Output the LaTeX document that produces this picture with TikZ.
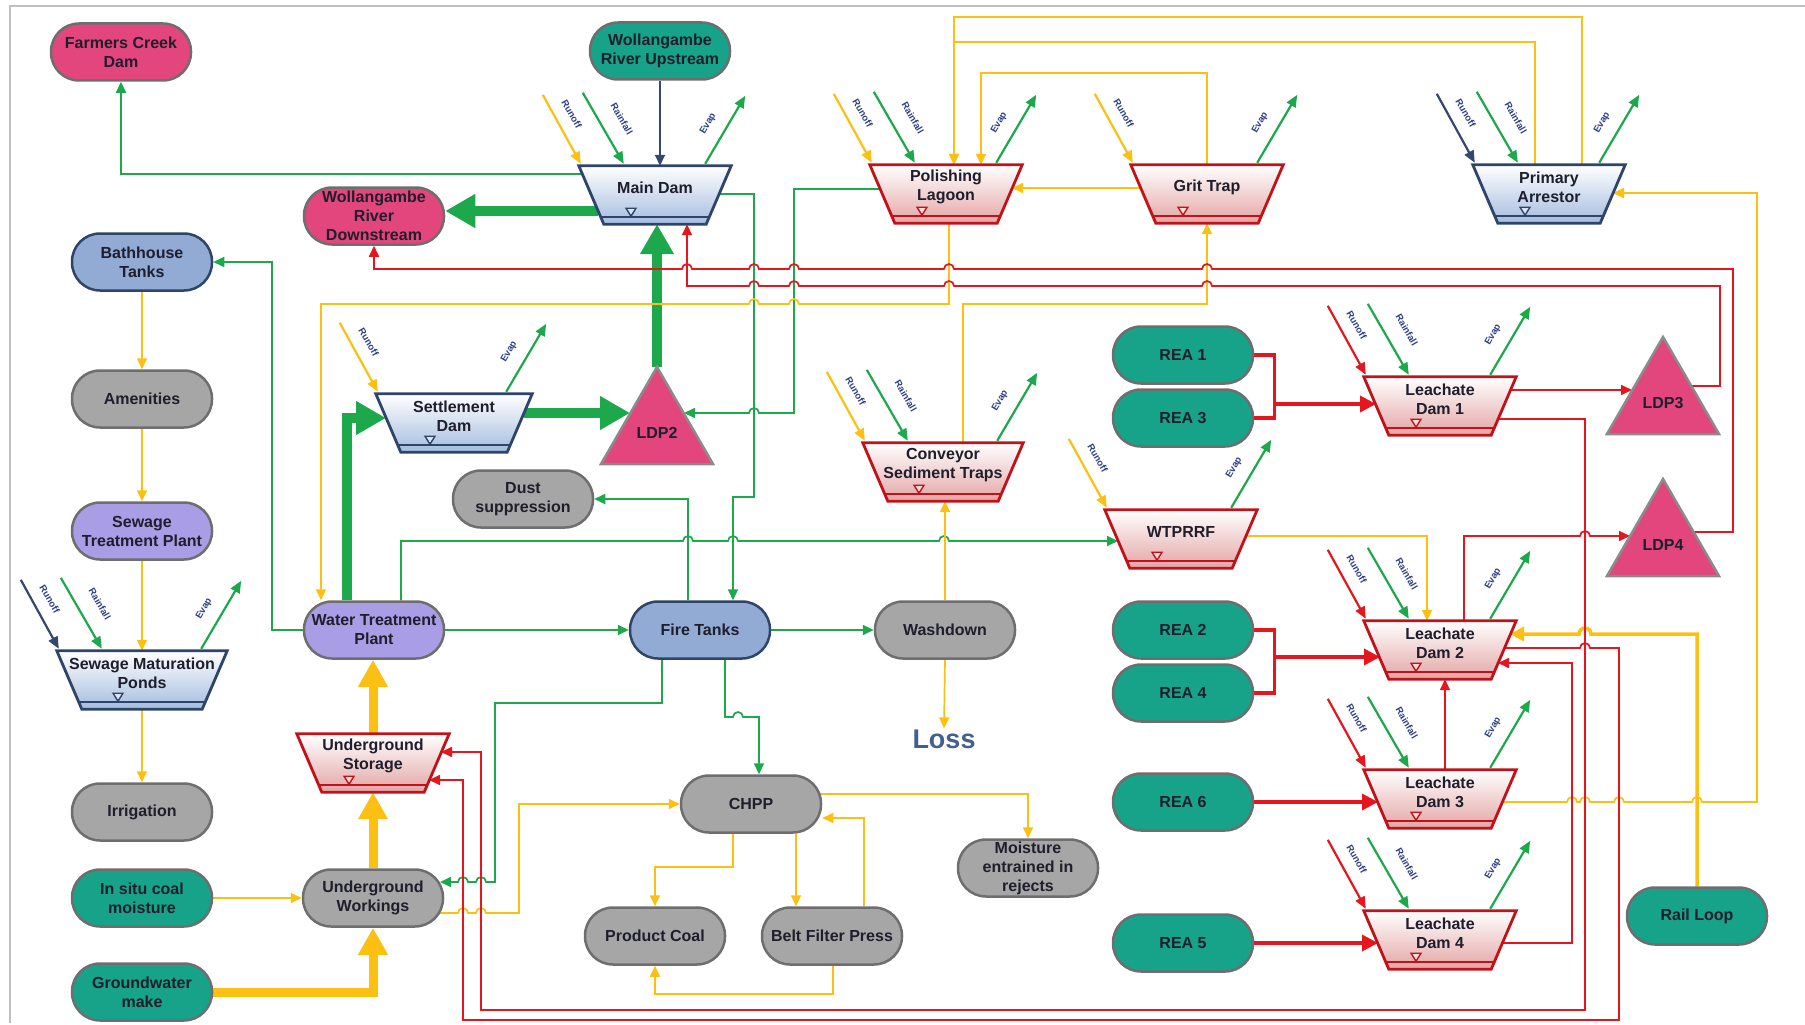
\documentclass[tikz,border=0pt]{standalone}
\usepackage{fontspec}
\setmainfont{Liberation Sans}
\usetikzlibrary{arrows.meta,calc}
\definecolor{cpink}{HTML}{E2467C}
\definecolor{cteal}{HTML}{16A389}
\definecolor{cgray}{HTML}{A6A6A6}
\definecolor{cblue}{HTML}{92ABD4}
\definecolor{cpurple}{HTML}{A99DE5}
\definecolor{cbord}{HTML}{6E6E6E}
\definecolor{cnavy}{HTML}{34476E}
\definecolor{cgreen}{HTML}{1DA84C}
\definecolor{cyel}{HTML}{FCC012}
\definecolor{cred}{HTML}{E5161E}
\definecolor{ctext}{HTML}{1E1E2C}
\definecolor{clab}{HTML}{2D3F85}
\definecolor{closs}{HTML}{41608F}
\definecolor{fillb}{HTML}{A4BCDF}
\definecolor{lineb}{HTML}{2E4468}
\definecolor{fillr}{HTML}{E4A5A5}
\definecolor{liner}{HTML}{C1121A}
\newcommand{\ndfont}{\fontsize{16}{19}\selectfont\bfseries}
\newcommand{\wxfont}{\fontsize{9.5}{11}\selectfont\bfseries}
\pgfdeclarelayer{bg}
\pgfsetlayers{bg,main}
\newcommand{\mkdam}[7]{%
 \node[minimum width=#4pt, minimum height=#5pt, inner sep=0pt] (#1) at (#2,#3) {};
 \path[top color=white, bottom color=fill#6, draw=line#6, line width=2.8pt, line join=miter]
  (#1.north west) -- (#1.north east) -- ([xshift=-25pt]#1.south east) -- ([xshift=25pt]#1.south west) -- cycle;
 \draw[line#6, line width=2pt] ([xshift=22pt,yshift=7pt]#1.south west) -- ([xshift=-22pt,yshift=7pt]#1.south east);
 \draw[line#6, line width=1.4pt, fill=white!60!fill#6, line join=miter] ([xshift=-29pt,yshift=16pt]#1.south) -- ([xshift=-19pt,yshift=16pt]#1.south) -- ([xshift=-24pt,yshift=8pt]#1.south) -- cycle;
 \node[ntext] at ([yshift=7pt]#1.center) {#7};
}
\newcommand{\mkldp}[4]{%
 \coordinate (#1top) at (#2,#3);
 \filldraw[fill=cpink, draw=cbord!80, line width=2.5pt, line join=miter] (#2,#3) -- ++(56,97) -- ++(-112,0) -- cycle;
 \node[ntext] (#1) at (#2,#3+66) {#4};
}
\newcommand{\runoffarr}[2]{%
 \draw[wxa, #2] ([shift={(-36,-71)}]#1.north west) -- ([shift={(2,-2)}]#1.north west);
 \node[wxl, rotate=-60] at ([shift={(-7,-52)}]#1.north west) {Runoff};
}
\newcommand{\rainarr}[1]{%
 \draw[wxa, cgreen] ([shift={(4,-73)}]#1.north west) -- ([shift={(45,-2)}]#1.north west);
 \node[wxl, rotate=-60] at ([shift={(43,-47)}]#1.north west) {Rainfall};
}
\newcommand{\evaparr}[1]{%
 \draw[wxa, cgreen] ([shift={(-26,-2)}]#1.north east) -- ([shift={(14,-70)}]#1.north east);
 \node[wxl, rotate=60] at ([shift={(-23,-42)}]#1.north east) {Evap};
}
\begin{document}
\begin{tikzpicture}[x=1pt,y=-1pt,
 ntext/.style={font=\ndfont, text=ctext, align=center, inner sep=0pt},
 pill/.style={draw=cbord, line width=2.5pt, rounded corners=28pt, minimum width=140pt, minimum height=57pt, inner sep=0pt, align=center, font=\ndfont, text=ctext},
 pinkp/.style={pill, fill=cpink},
 tealp/.style={pill, fill=cteal},
 grayp/.style={pill, fill=cgray},
 bluep/.style={pill, fill=cblue, draw=lineb},
 purpp/.style={pill, fill=cpurple},
 wxa/.style={line width=2.2pt, -{Triangle[length=12pt,width=10pt]}},
 wxl/.style={font=\wxfont, text=clab, inner sep=0pt},
 gln/.style={draw=cgreen, line width=1.7pt, -{Triangle[length=11pt,width=10pt]}},
 yln/.style={draw=cyel, line width=1.7pt, -{Triangle[length=11pt,width=10pt]}},
 rln/.style={draw=cred, line width=1.7pt, -{Triangle[length=11pt,width=10pt]}},
 nln/.style={draw=cnavy, line width=1.7pt, -{Triangle[length=11pt,width=10pt]}},
 thg/.style={draw=cgreen, line width=10pt, -{Triangle[length=30pt,width=32pt]}},
 thy/.style={draw=cyel, line width=9pt, -{Triangle[length=27pt,width=28pt]}},
 rbr/.style={draw=cred, line width=3.5pt},
 rar/.style={draw=cred, line width=3.5pt, -{Triangle[length=16pt,width=16pt]}}
]
\useasboundingbox (0,0) rectangle (1805,1025);

% ---------- pills ----------
\node[pinkp] (fcd) at (121,52) {Farmers Creek\\Dam};
\node[tealp] (wru) at (660,51) {Wollangambe\\River Upstream};
\node[pinkp] (wrd) at (374,216) {Wollangambe\\River\\Downstream};
\node[bluep] (bt) at (142,262) {Bathhouse\\Tanks};
\node[grayp] (am) at (142,399) {Amenities};
\node[purpp] (stp) at (142,531) {Sewage\\Treatment Plant};
\node[grayp] (irr) at (142,812) {Irrigation};
\node[tealp] (isc) at (142,898) {In situ coal\\moisture};
\node[tealp] (gw) at (142,992) {Groundwater\\make};
\node[purpp] (wtp) at (374,630) {Water Treatment\\Plant};
\node[grayp] (uw) at (373,898) {Underground\\Workings};
\node[grayp] (ds) at (523,499) {Dust\\suppression};
\node[bluep] (ft) at (700,630) {Fire Tanks};
\node[grayp] (wd) at (945,630) {Washdown};
\node[font=\fontsize{27}{30}\selectfont\bfseries, text=closs, inner sep=1pt] (loss) at (944,739) {Loss};
\node[grayp] (chpp) at (751,804) {CHPP};
\node[grayp] (mer) at (1028,868) {Moisture\\entrained in\\rejects};
\node[grayp] (pc) at (655,936) {Product Coal};
\node[grayp] (bfp) at (832,936) {Belt Filter Press};
\node[tealp] (rea1) at (1183,355) {REA 1};
\node[tealp] (rea3) at (1183,418) {REA 3};
\node[tealp] (rea2) at (1183,630) {REA 2};
\node[tealp] (rea4) at (1183,693) {REA 4};
\node[tealp] (rea6) at (1183,802) {REA 6};
\node[tealp] (rea5) at (1183,943) {REA 5};
\node[tealp] (rl) at (1697,916) {Rail Loop};

% ---------- dams ----------
\mkdam{md}{655}{195}{152}{58}{b}{Main Dam}
\mkdam{pl}{946}{194}{152}{58}{r}{Polishing\\Lagoon}
\mkdam{gt}{1207}{194}{152}{58}{r}{Grit Trap}
\mkdam{pa}{1549}{194}{152}{58}{b}{Primary\\Arrestor}
\mkdam{sd}{454}{423}{156}{58}{b}{Settlement\\Dam}
\mkdam{smp}{142}{680}{170}{58}{b}{Sewage Maturation\\Ponds}
\mkdam{us}{373}{763}{152}{58}{r}{Underground\\Storage}
\mkdam{cst}{943}{472}{160}{58}{r}{Conveyor\\Sediment Traps}
\mkdam{wt}{1181}{539}{152}{58}{r}{WTPRRF}
\mkdam{ld1}{1440}{406}{152}{58}{r}{Leachate\\Dam 1}
\mkdam{ld2}{1440}{650}{152}{58}{r}{Leachate\\Dam 2}
\mkdam{ld3}{1440}{799}{152}{58}{r}{Leachate\\Dam 3}
\mkdam{ld4}{1440}{940}{152}{58}{r}{Leachate\\Dam 4}

% ---------- LDP triangles ----------
\mkldp{ldp2}{657}{367}{LDP2}
\mkldp{ldp3}{1663}{337}{LDP3}
\mkldp{ldp4}{1663}{479}{LDP4}

% ---------- weather arrows ----------
\runoffarr{md}{cyel}\rainarr{md}\evaparr{md}
\runoffarr{pl}{cyel}\rainarr{pl}\evaparr{pl}
\runoffarr{gt}{cyel}\evaparr{gt}
\runoffarr{pa}{cnavy}\rainarr{pa}\evaparr{pa}
\runoffarr{sd}{cyel}\evaparr{sd}
\runoffarr{smp}{cnavy}\rainarr{smp}\evaparr{smp}
\runoffarr{cst}{cyel}\rainarr{cst}\evaparr{cst}
\runoffarr{wt}{cyel}\evaparr{wt}
\runoffarr{ld1}{cred}\rainarr{ld1}\evaparr{ld1}
\runoffarr{ld2}{cred}\rainarr{ld2}\evaparr{ld2}
\runoffarr{ld3}{cred}\rainarr{ld3}\evaparr{ld3}
\runoffarr{ld4}{cred}\rainarr{ld4}\evaparr{ld4}

\begin{pgfonlayer}{bg}
\draw[black!25, line width=1.5pt] (10,1023) -- (10,6) -- (1805,6);
% thick
\draw[thg] (598,211) -- ([yshift=5pt]wrd.east);
\draw[thg] (ldp2top) -- (ldp2top |- md.south);
\draw[thg] (524,413) -- (630,413);
\draw[thg] ([xshift=-27pt]wtp.north) |- (386,418);
\draw[thy] (uw.north) -- (uw.north |- us.south);
\draw[thy] (us.north) -- (us.north |- wtp.south);
\draw[thy] (gw.east) -| (uw.south);
% navy
\draw[nln] (wru.south) -- (wru.south |- md.north);
% green
\draw[gln] (582,174) -| (fcd.south);
\draw[gln] (719,194) -- (754,194) -- (754,497) -- (733,497) -- ([xshift=33pt]ft.north);
\draw[gln] (880,189) -- (794,189) -- (794,413) -- (759,413) arc[start angle=0,end angle=180,radius=5pt] -- (684,413);
\draw[gln] ([xshift=-12pt]ft.north) |- (ds.east);
\draw[gln] (wtp.east) -- (ft.west);
\draw[gln] (ft.east) -- (wd.west);
\draw[gln] ([xshift=27pt]wtp.north) -- (401,541) -- (683,541) arc[start angle=180,end angle=0,radius=5pt] -- (728,541) arc[start angle=180,end angle=0,radius=5pt] -- (939,541) arc[start angle=180,end angle=0,radius=5pt] -- (1118,541);
\draw[gln] (wtp.west) -- ++(-31,0) |- (bt.east);
\draw[gln] ([xshift=-38pt]ft.south) -- (662,703) -- (495,703) -- (495,882) -- (486,882) arc[start angle=0,end angle=180,radius=5pt] -- (468,882) arc[start angle=0,end angle=180,radius=5pt] -- (440,882);
\draw[gln] ([xshift=25pt]ft.south) -- (725,717) -- (733,717) arc[start angle=180,end angle=0,radius=5pt] -- (759,717) -- ([xshift=8pt]chpp.north);
% yellow
\draw[yln] (bt.south) -- (bt.south |- am.north);
\draw[yln] (am.south) -- (stp.north);
\draw[yln] (stp.south) -- (stp.south |- smp.north);
\draw[yln] (smp.south) -- (smp.south |- irr.north);
\draw[yln] (isc.east) -- (uw.west);
\draw[yln] ([xshift=-10pt,yshift=-15pt]uw.east) -- (458,913) arc[start angle=180,end angle=0,radius=5pt] -- (476,913) arc[start angle=180,end angle=0,radius=5pt] -- (519,913) |- (chpp.west);
\draw[yln] ([xshift=-18pt]chpp.south) -- ++(0,33) -| (pc.north);
\draw[yln] ([xshift=45pt]chpp.south) -- ([xshift=-36pt]bfp.north);
\draw[yln] ([xshift=32pt]bfp.north) |- ([yshift=-14pt]chpp.east);
\draw[yln] ([xshift=1pt]bfp.south) -- ++(0,28) -| (pc.south);
\draw[yln] ([xshift=-5pt,yshift=10pt]chpp.east) -| (mer.north);
\draw[yln] (wd.south) -- (loss.north);
\draw[yln] (wd.north) -- (wd.north |- cst.south);
\draw[yln] ([xshift=20pt]cst.north) -- ++(0,-139) -| (gt.south);
\draw[yln] ([xshift=3pt]pl.south) -- (949,304) -- (799,304) arc[start angle=0,end angle=180,radius=5pt] -- (759,304) arc[start angle=0,end angle=180,radius=5pt] -- (321,304) -- ([xshift=-53pt]wtp.north);
\draw[yln] (1141,188) -- (1012,188);
\draw[yln] (gt.north) -- ++(0,-92) -| ([xshift=35pt]pl.north);
\draw[yln] ([xshift=-14pt]pa.north) -- ++(0,-123) -| ([xshift=8pt]pl.north);
\draw[yln] ([xshift=33pt]pa.north) -- ++(0,-148) -| ([xshift=8pt]pl.north);
\draw[yln] (1502,802) -- (1567,802) arc[start angle=180,end angle=0,radius=5pt] -- (1580,802) arc[start angle=180,end angle=0,radius=5pt] -- (1614,802) arc[start angle=180,end angle=0,radius=5pt] -- (1692,802) arc[start angle=180,end angle=0,radius=5pt] -- (1757,802) -- (1757,193) -- (1613,193);
\draw[yln, line width=3.5pt, -{Triangle[length=14pt,width=14pt]}] (rl.north) -- (1697,634) -- (1591,634) arc[start angle=0,end angle=180,radius=6pt] -- (1510,634);
\draw[yln] (1246,536) -- (1427,536) -- ([xshift=-13pt]ld2.north);
% red
\draw[rbr] (rea1.east) -- ++(20,0) |- (rea3.east);
\draw[rar] (1273,404) -- (1376,404);
\draw[rbr] (rea2.east) -- ++(20,0) |- (rea4.east);
\draw[rar] (1273,657) -- (1380,657);
\draw[rar] (rea6.east) -- (1378,802);
\draw[rar] (rea5.east) -- (1378,943);
\draw[rln] ([xshift=5pt]ld3.north) -- ([xshift=5pt]ld2.south);
\draw[rln] (1510,390) -- (1632,390);
\draw[rln] (1691,386) -- (1720,386) -- (1720,286) -- (1212,286) arc[start angle=0,end angle=180,radius=5pt] -- (954,286) arc[start angle=0,end angle=180,radius=5pt] -- (799,286) arc[start angle=0,end angle=180,radius=5pt] -- (759,286) arc[start angle=0,end angle=180,radius=5pt] -- (687,286) -- ([xshift=32pt]md.south);
\draw[rln] (1694,532) -- (1733,532) -- (1733,269) -- (1212,269) arc[start angle=0,end angle=180,radius=5pt] -- (954,269) arc[start angle=0,end angle=180,radius=5pt] -- (799,269) arc[start angle=0,end angle=180,radius=5pt] -- (759,269) arc[start angle=0,end angle=180,radius=5pt] -- (692,269) arc[start angle=0,end angle=180,radius=5pt] -- (374,269) -- (wrd.south);
\draw[rln] (1498,419) -- (1585,419) -- (1585,1010) -- (481,1010) -- (481,752) -- (441,752);
\draw[rln] (1504,648) -- (1580,648) arc[start angle=180,end angle=0,radius=5pt] -- (1619,648) -- (1619,1020) -- (463,1020) -- (463,780) -- (429,780);
\draw[rln] (1502,943) -- (1572,943) -- (1572,663) -- (1498,663);
\draw[rln] ([xshift=24pt]ld2.north) -- (1464,536) -- (1580,536) arc[start angle=180,end angle=0,radius=5pt] -- (1630,536);
\end{pgfonlayer}
\end{tikzpicture}
\end{document}
